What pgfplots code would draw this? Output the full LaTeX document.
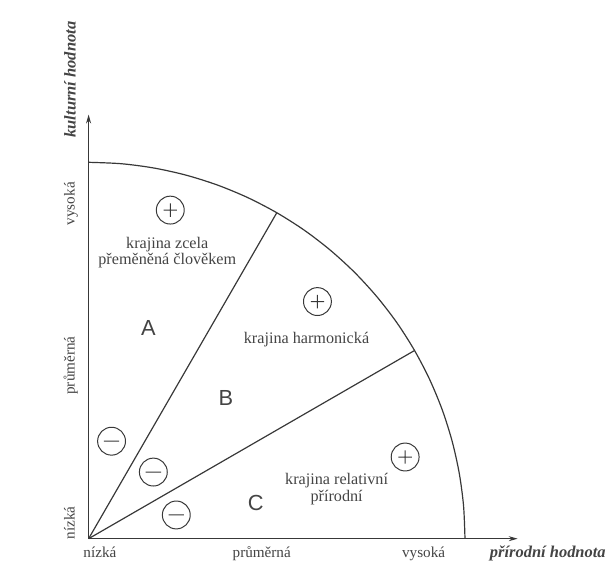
\documentclass[border=0pt]{standalone}
\usepackage{pgfplots}
\pgfplotsset{compat=1.18}
\usetikzlibrary{arrows.meta}
\usepackage{fontspec}
\setmainfont{Liberation Serif}
\newfontfamily\sansA{Liberation Sans}

\definecolor{ink}{HTML}{383838}
\definecolor{txt}{HTML}{444444}

% circled plus / minus marks
\pgfdeclareplotmark{cplus}{%
  \pgfpathcircle{\pgfpointorigin}{\pgfplotmarksize}%
  \pgfpathmoveto{\pgfpoint{-0.48\pgfplotmarksize}{0pt}}%
  \pgfpathlineto{\pgfpoint{0.48\pgfplotmarksize}{0pt}}%
  \pgfpathmoveto{\pgfpoint{0pt}{-0.48\pgfplotmarksize}}%
  \pgfpathlineto{\pgfpoint{0pt}{0.48\pgfplotmarksize}}%
  \pgfusepathqstroke}
\pgfdeclareplotmark{cminus}{%
  \pgfpathcircle{\pgfpointorigin}{\pgfplotmarksize}%
  \pgfpathmoveto{\pgfpoint{-0.55\pgfplotmarksize}{0pt}}%
  \pgfpathlineto{\pgfpoint{0.55\pgfplotmarksize}{0pt}}%
  \pgfusepathqstroke}

\begin{document}
\begin{tikzpicture}
\begin{axis}[
    x=378bp, y=378bp,
    xmin=0, xmax=1.14, ymin=0, ymax=1.127,
    axis lines=left,
    axis line style={ink, line width=1.2bp, -{Stealth[length=9bp,width=5bp]}},
    clip=false,
    xtick={0.03,0.46,0.89}, xticklabels={nízká,průměrná,vysoká},
    ytick={0.042,0.46,0.89}, yticklabels={nízká,průměrná,vysoká},
    major tick length=0pt,
    tick label style={font=\fontsize{15.3}{18}\selectfont, text=txt},
    xticklabel style={yshift=-19bp, anchor=base},
    yticklabel style={xshift=-14bp, rotate=90, anchor=base},
    xlabel={přírodní hodnota}, ylabel={kulturní hodnota},
    label style={font=\fontsize{16.6}{18}\selectfont\bfseries\itshape, text=txt},
    xlabel style={at={(rel axis cs:1.0702,-0.0446)}, anchor=base},
    ylabel style={at={(rel axis cs:-0.0302,1.0825)}, anchor=base},
]

% outer arc
\addplot[ink, line width=1.2bp, smooth] coordinates {
    (1,0)(0.9962,0.0872)(0.9848,0.1736)(0.9659,0.2588)(0.9397,0.3420)
    (0.9063,0.4226)(0.8660,0.5)(0.8192,0.5736)(0.7660,0.6428)(0.7071,0.7071)
    (0.6428,0.7660)(0.5736,0.8192)(0.5,0.8660)(0.4226,0.9063)(0.3420,0.9397)
    (0.2588,0.9659)(0.1736,0.9848)(0.0872,0.9962)(0,1)
};
% dividing rays
\addplot[ink, line width=1.2bp] coordinates {(0,0)(0.5,0.8660)};
\addplot[ink, line width=1.2bp] coordinates {(0,0)(0.8660,0.5)};

% circled signs
\addplot[only marks, mark=cplus, mark size=14bp, mark options={ink, line width=1bp}]
    coordinates {(0.217,0.873)(0.608,0.630)(0.841,0.217)};
\addplot[only marks, mark=cminus, mark size=14bp, mark options={ink, line width=1bp}]
    coordinates {(0.061,0.259)(0.172,0.177)(0.233,0.063)};

% region texts
\node[text=txt, font=\fontsize{16.3}{17}\selectfont, align=center]
    at (axis cs:0.209,0.760) {krajina zcela\\přeměněná člověkem};
\node[text=txt, font=\fontsize{16.3}{17}\selectfont]
    at (axis cs:0.579,0.529) {krajina harmonická};
\node[text=txt, font=\fontsize{16.3}{17}\selectfont, align=center]
    at (axis cs:0.659,0.132) {krajina relativní\\přírodní};
\node[text=txt, font=\sansA\fontsize{22}{22}\selectfont] at (axis cs:0.159,0.561) {A};
\node[text=txt, font=\sansA\fontsize{22}{22}\selectfont] at (axis cs:0.365,0.373) {B};
\node[text=txt, font=\sansA\fontsize{22}{22}\selectfont] at (axis cs:0.444,0.095) {C};

% page frame
\path (axis cs:-0.2354,-0.0608) rectangle (axis cs:1.3757,1.4312);
\end{axis}
\end{tikzpicture}
\end{document}
